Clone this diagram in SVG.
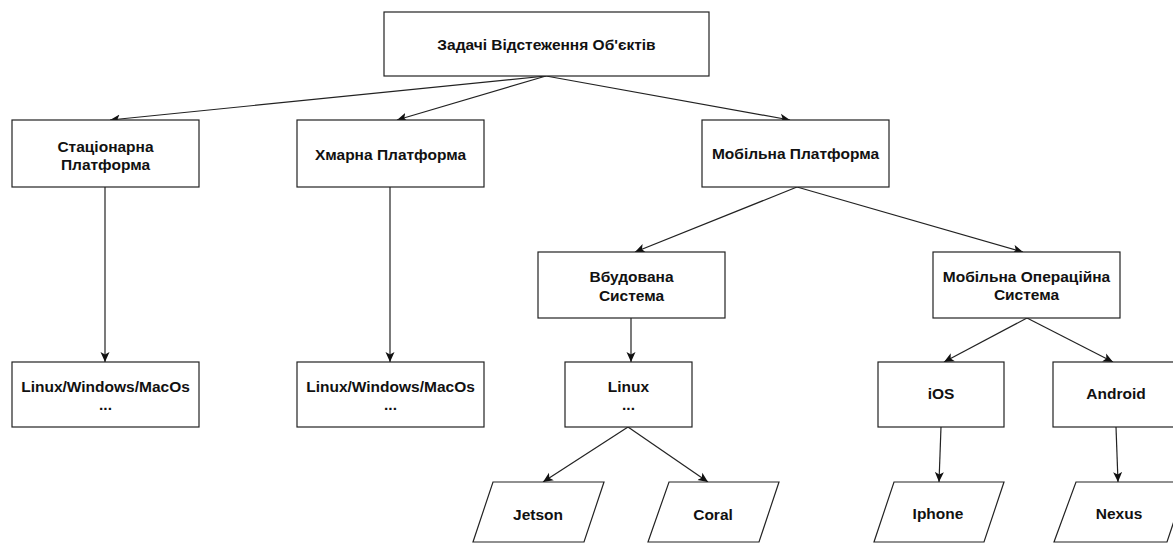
<svg xmlns="http://www.w3.org/2000/svg" width="1173" height="543" viewBox="0 0 1173 543">
<style>
.box{fill:#fff;stroke:#222;stroke-width:1.2}
.t{font-family:"Liberation Sans",Arial,sans-serif;font-weight:bold;font-size:15.5px;fill:#111;text-anchor:middle}
.c{fill:none;stroke:#222;stroke-width:1.2;marker-end:url(#arr)}
</style>
<defs>
<marker id="arr" markerUnits="userSpaceOnUse" markerWidth="12" markerHeight="10" viewBox="0 0 12 10" refX="10" refY="5" orient="auto">
<path d="M0,0.5 L10,5 L0,9.5 L2.5,5 Z" fill="#111"/>
</marker>
</defs>
<rect width="1173" height="543" fill="#fff"/>
<g id="connectors">
<line class="c" x1="546" y1="76" x2="110" y2="120"/>
<line class="c" x1="546" y1="76" x2="397" y2="120"/>
<line class="c" x1="546" y1="76" x2="790" y2="120"/>
<line class="c" x1="105" y1="187" x2="105" y2="362"/>
<line class="c" x1="390" y1="187" x2="390" y2="362"/>
<line class="c" x1="797" y1="187" x2="635" y2="252"/>
<line class="c" x1="797" y1="187" x2="1023" y2="252"/>
<line class="c" x1="631" y1="318" x2="631" y2="362"/>
<line class="c" x1="1027" y1="318" x2="944" y2="362"/>
<line class="c" x1="1027" y1="318" x2="1113" y2="362"/>
<line class="c" x1="628" y1="427" x2="543" y2="482"/>
<line class="c" x1="628" y1="427" x2="708" y2="482"/>
<line class="c" x1="941" y1="427" x2="939" y2="482"/>
<line class="c" x1="1116" y1="427" x2="1118" y2="482"/>
</g>
<g id="root"><rect class="box" x="384" y="12" width="325" height="64"/><text class="t" x="546.5" y="50">Задачі Відстеження Об'єктів</text></g>
<g id="stationary"><rect class="box" x="12" y="120" width="187" height="67"/><text class="t" x="105.5" y="152">Стаціонарна</text><text class="t" x="105.5" y="170">Платформа</text></g>
<g id="cloud"><rect class="box" x="297" y="120" width="187" height="67"/><text class="t" x="390.5" y="160">Хмарна Платформа</text></g>
<g id="mobile"><rect class="box" x="702" y="120" width="187" height="67"/><text class="t" x="795.5" y="159">Мобільна Платформа</text></g>
<g id="embedded"><rect class="box" x="538" y="252" width="187" height="66"/><text class="t" x="631.5" y="282">Вбудована</text><text class="t" x="631.5" y="301">Система</text></g>
<g id="mobileos"><rect class="box" x="933" y="252" width="187" height="66"/><text class="t" x="1026.5" y="282">Мобільна Операційна</text><text class="t" x="1026.5" y="300">Система</text></g>
<g id="os1"><rect class="box" x="12" y="362" width="187" height="65"/><text class="t" x="105.5" y="392">Linux/Windows/MacOs</text><text class="t" x="105.5" y="410">...</text></g>
<g id="os2"><rect class="box" x="297" y="362" width="187" height="65"/><text class="t" x="390.5" y="392">Linux/Windows/MacOs</text><text class="t" x="390.5" y="410">...</text></g>
<g id="linux"><rect class="box" x="565" y="362" width="127" height="65"/><text class="t" x="628.5" y="392">Linux</text><text class="t" x="628.5" y="410">...</text></g>
<g id="ios"><rect class="box" x="878" y="362" width="126" height="65"/><text class="t" x="941" y="399">iOS</text></g>
<g id="android"><rect class="box" x="1053" y="362" width="127" height="65"/><text class="t" x="1116" y="399">Android</text></g>
<g id="jetson"><polygon class="box" points="493,482 604,482 584,542 473,542"/><text class="t" x="538" y="520">Jetson</text></g>
<g id="coral"><polygon class="box" points="669,482 779,482 759,542 648,542"/><text class="t" x="713" y="520">Coral</text></g>
<g id="iphone"><polygon class="box" points="894,482 1004,482 984,542 874,542"/><text class="t" x="938" y="519">Iphone</text></g>
<g id="nexus"><polygon class="box" points="1076,482 1187,482 1167,542 1054,542"/><text class="t" x="1119" y="519">Nexus</text></g>
</svg>
